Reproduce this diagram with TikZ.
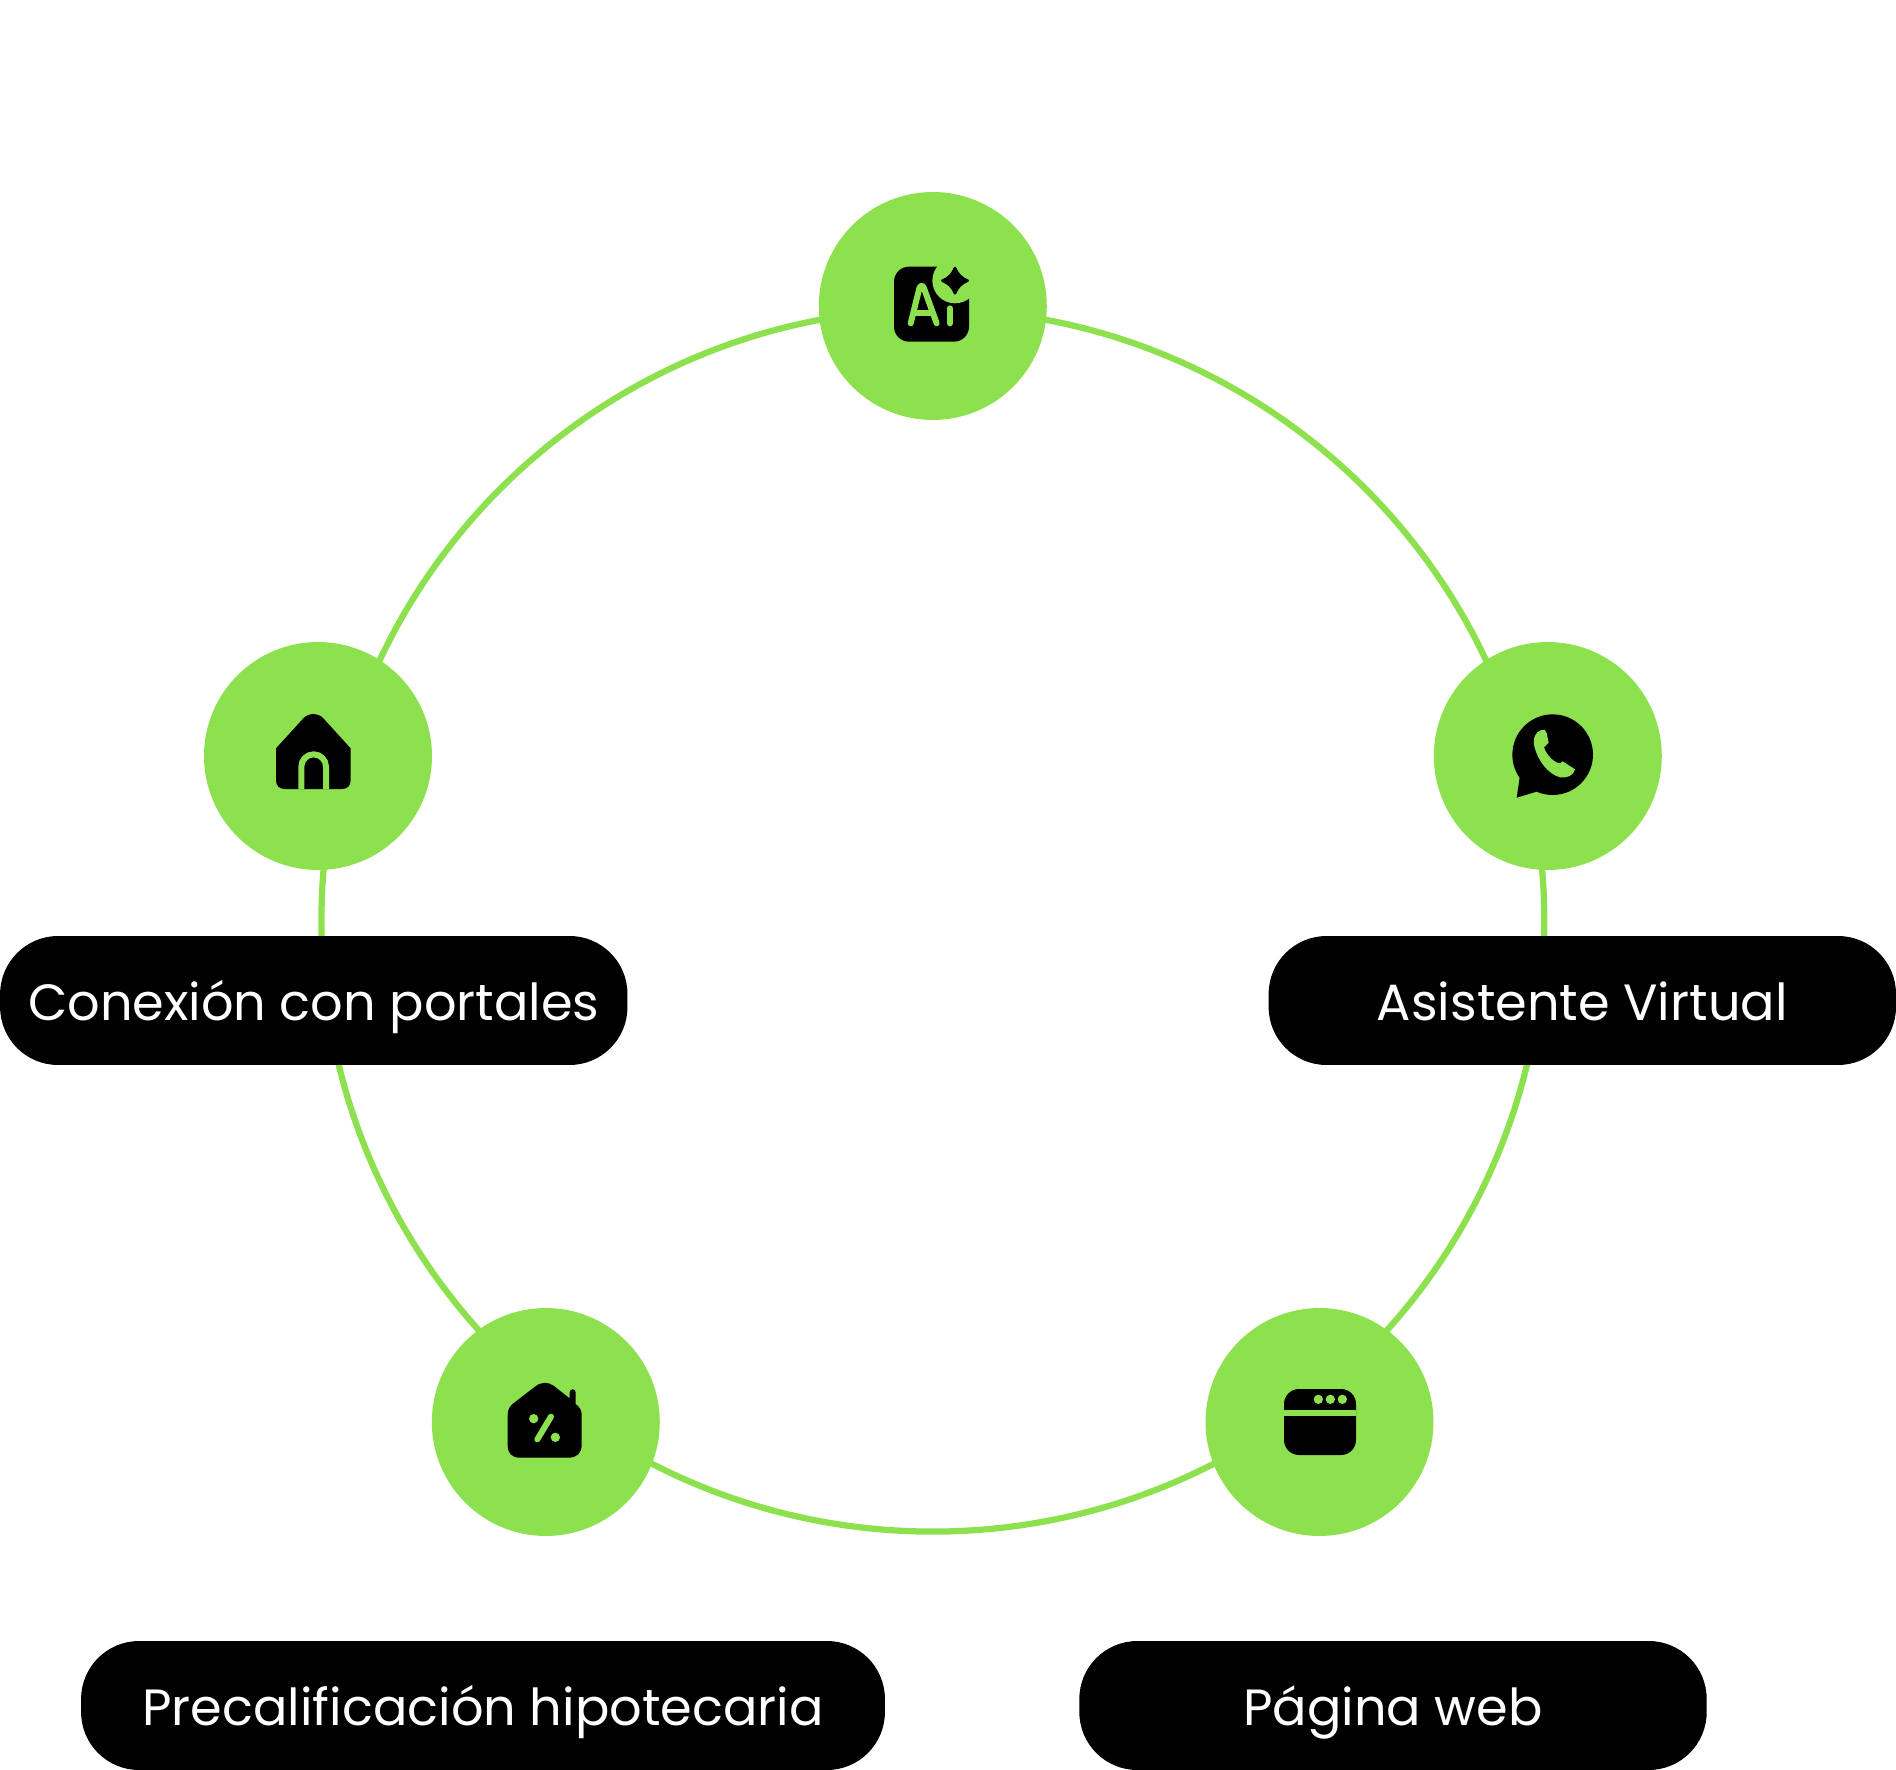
\documentclass[tikz,border=0pt]{standalone}
\usepackage{fontspec}
\setmainfont{Poppins}
\definecolor{verde}{RGB}{142, 225, 78}
\usetikzlibrary{positioning}
\tikzstyle{anillo}  =[verde, line width=1.25mm]
\tikzstyle{circulo} =[circle, fill=verde, minimum size=4.56cm,
                      inner sep=0pt, outer sep=0pt]
\tikzstyle{etiqueta}=[rectangle, fill=black, text=white, rounded corners=1.16cm,
                      minimum height=2.58cm, inner sep=0pt, outer sep=0pt,
                      text height=1.04cm, text depth=0.26cm,
                      font=\fontsize{29}{34}\selectfont]
\tikzstyle{trazo}   =[verde, line width=1.2mm, line cap=round, line join=round]
\begin{document}
\begin{tikzpicture}[x=0.02cm,y=-0.02cm]
    \useasboundingbox (0,0) rectangle (1896,1770);

    \coordinate (a1) at (932.85,309.3);
    \coordinate (a2) at (1524,764.6);
    \coordinate (a3) at (1306.2,1405);
    \coordinate (a4) at (559.5,1405);
    \coordinate (a5) at (341.7,764.6);

    \foreach \i/\j/\b/\l in{a1/a2/37.6/.95,a2/a3/33.6/.93,a3/a4/37.6/.95,a4/a5/33.6/.93,a5/a1/37.6/.95}
        \draw [anillo] (\i) to[bend left=\b,looseness=\l] (\j);

    \draw (932.8,306) node (ia) [circulo] {};
    \draw (1547.8,756) node (whatsapp) [circulo] {};
    \draw (318,756) node (casa) [circulo] {};
    \draw (545.8,1422) node (hipoteca) [circulo] {};
    \draw (1319.5,1422) node (web) [circulo] {};

    \draw (313.8,1000.5) node (conexion) [etiqueta,minimum width=12.55cm] {Conexión con portales};
    \draw (1582.3,1000.5) node (asistente) [etiqueta,minimum width=12.55cm] {Asistente Virtual};
    \draw (483,1705.5) node (precalificacion) [etiqueta,minimum width=16.08cm] {Precalificación hipotecaria};
    \draw (1393,1705.5) node (pagina) [etiqueta,minimum width=12.55cm] {Página web};

    \begin{scope}[shift={(860,230)},scale=1/3]
        \fill [black,rounded corners=0.3cm] (102,110) rectangle (327,335);
        \fill [verde] (285,152) circle (68);
        \fill [black,draw=black,line width=0.5mm,line join=round] (285,114) .. controls (292,132) and (305,145) .. (323,152)
            .. controls (305,159) and (292,172) .. (285,190)
            .. controls (278,172) and (265,159) .. (247,152)
            .. controls (265,145) and (278,132) .. (285,114) -- cycle;
        \draw [trazo] (152,280) -- (178,175) .. controls (182,165) and (188,165) .. (192,175) -- (230,280);
        \draw [trazo] (167,250) -- (218,250);
        \draw [trazo] (270,235) -- (270,280);
    \end{scope}

    \begin{scope}[shift={(1480,690)},scale=1/3]
        \fill [black] (218,194) circle (121);
        \fill [black] (120,255) -- (110,323) -- (170,305) -- cycle;
        \fill [verde] (185,120) .. controls (195,118) and (198,122) .. (200,130) -- (206,158) -- (192,172)
            .. controls (198,192) and (220,218) .. (240,220) -- (248,214) -- (285,238)
            .. controls (280,258) and (262,264) .. (240,262)
            .. controls (205,252) and (175,215) .. (163,170)
            .. controls (158,145) and (165,125) .. (185,120) -- cycle;
    \end{scope}

    \begin{scope}[shift={(250,690)},scale=1/3]
        \fill [black] (78,175) -- (160,85) .. controls (175,68) and (205,68) .. (220,85) -- (302,175) -- (302,270)
            .. controls (302,288) and (292,297) .. (275,297) -- (105,297)
            .. controls (88,297) and (78,288) .. (78,270) -- cycle;
        \draw [verde,line width=1.2mm] (154,297) -- (154,230) arc[start angle=180,end angle=360,x radius=37,y radius=37] -- (228,297);
    \end{scope}

    \begin{scope}[shift={(485,1360)},scale=1/3]
        \fill [black] (68,165) .. controls (68,148) and (75,138) .. (85,130) -- (150,80) .. controls (168,65) and (190,65) .. (207,78)
            -- (254,115) -- (254,97) .. controls (254,85) and (272,85) .. (272,97) -- (272,132)
            .. controls (285,142) and (290,152) .. (290,165) -- (290,255)
            .. controls (290,280) and (275,293) .. (250,293) -- (105,293)
            .. controls (80,293) and (68,280) .. (68,255) -- cycle;
        \fill [verde] (146,176) circle (14) (211,232) circle (14);
        \draw [verde,line width=1.2mm,line cap=round] (198,170) -- (157,238);
    \end{scope}

    \begin{scope}[shift={(1260,1370)},scale=1/3]
        \fill [black,rounded corners=0.3cm] (72,57) rectangle (288,255);
        \fill [verde] (72,120) rectangle (288,138);
        \foreach \x in{175,211,247}
            \fill [verde] (\x,88) circle (14);
    \end{scope}
\end{tikzpicture}
\end{document}
